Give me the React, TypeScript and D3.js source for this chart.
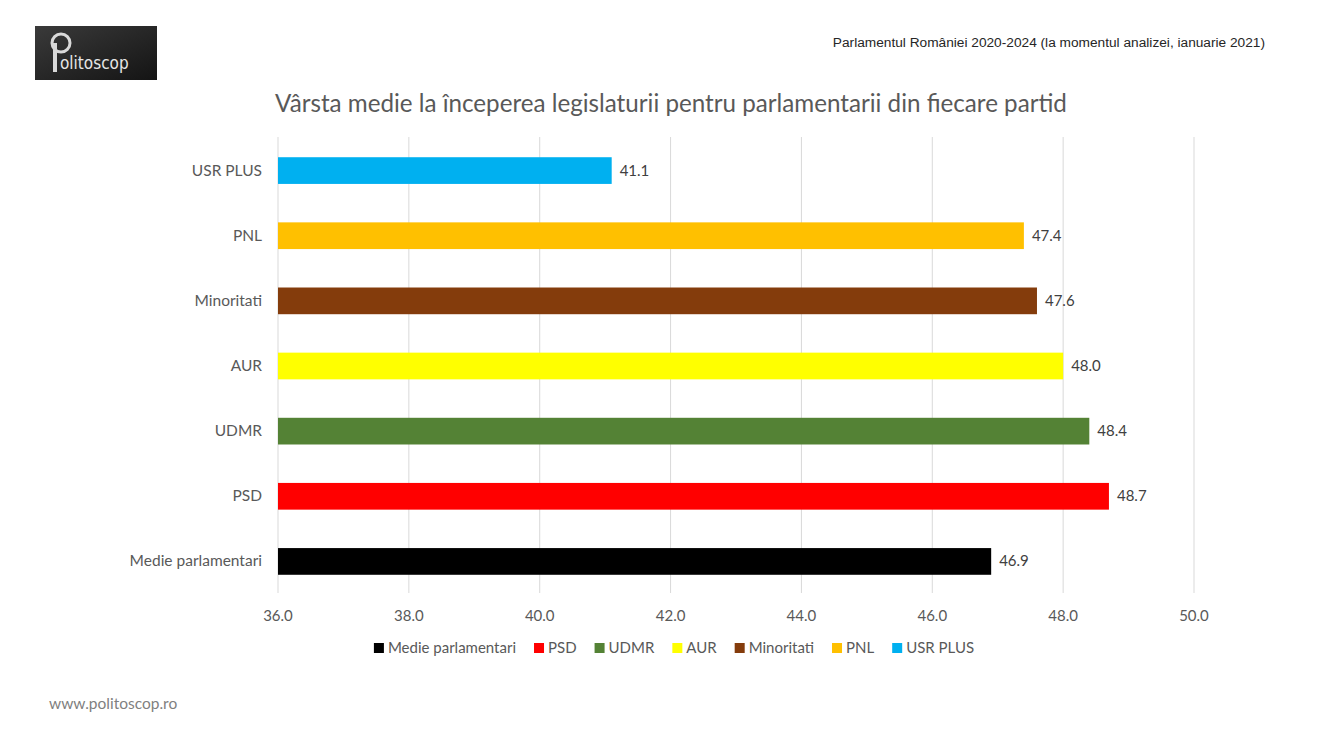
import React, { useRef, useEffect } from "react";
import * as d3 from "d3";

// parties, top to bottom as drawn
const parties = ["USR PLUS", "PNL", "Minoritati", "AUR", "UDMR", "PSD", "Medie parlamentari"];
const ages = [41.1, 47.4, 47.6, 48.0, 48.4, 48.7, 46.9];
const colors = ["#00B0F0", "#FFC000", "#843C0C", "#FFFF00", "#548235", "#FF0000", "#000000"];
const ticks = [36, 38, 40, 42, 44, 46, 48, 50];
// legend order follows the series order
const legendOrder = ["Medie parlamentari", "PSD", "UDMR", "AUR", "Minoritati", "PNL", "USR PLUS"];

const W = 1332;
const H = 750;
const FONT = "Lato, 'Open Sans', sans-serif";

const App: React.FC = () => {
  const ref = useRef<SVGSVGElement | null>(null);

  useEffect(() => {
    const svg = d3.select(ref.current);
    svg.selectAll("*").remove();
    svg.attr("viewBox", `0 0 ${W} ${H}`);

    svg.append("rect").attr("width", W).attr("height", H).attr("fill", "#ffffff");

    const x = d3.scaleLinear().domain([36, 50]).range([278, 1194]);
    const y = d3.scaleBand<string>().domain(parties).range([138, 594]).paddingInner(0.59).paddingOuter(0.295);

    // logo
    const defs = svg.append("defs");
    const grad = defs.append("linearGradient").attr("id", "logoGrad").attr("x1", "0").attr("y1", "0").attr("x2", "1").attr("y2", "1");
    grad.append("stop").attr("offset", "0%").attr("stop-color", "#3a3a3a");
    grad.append("stop").attr("offset", "100%").attr("stop-color", "#141414");
    svg.append("rect").attr("x", 35).attr("y", 26).attr("width", 122).attr("height", 54).attr("fill", "url(#logoGrad)");
    svg.append("circle").attr("cx", 61).attr("cy", 43).attr("r", 9).attr("fill", "none").attr("stroke", "#d9d9d9").attr("stroke-width", 3);
    svg.append("text").attr("x", 60).attr("y", 69).attr("font-family", "'DejaVu Sans Condensed', 'Liberation Sans Narrow', sans-serif").attr("font-size", 17).attr("fill", "#e6e6e6").text("olitoscop");
    svg.append("line").attr("x1", 55).attr("x2", 55).attr("y1", 43).attr("y2", 72).attr("stroke", "#d9d9d9").attr("stroke-width", 4);

    // header note
    svg.append("text").attr("x", 1265).attr("y", 47).attr("text-anchor", "end")
      .attr("font-family", "'Liberation Sans', Arial, sans-serif").attr("font-size", 13.7).attr("fill", "#262626")
      .text("Parlamentul României 2020-2024 (la momentul analizei, ianuarie 2021)");

    // title
    svg.append("text").attr("x", 671).attr("y", 112).attr("text-anchor", "middle")
      .attr("font-family", FONT).attr("font-size", 24.2).attr("fill", "#595959")
      .text("Vârsta medie la începerea legislaturii pentru parlamentarii din fiecare partid");

    // gridlines
    svg.append("g").selectAll("line").data(ticks).join("line")
      .attr("x1", (d) => x(d)).attr("x2", (d) => x(d))
      .attr("y1", 137).attr("y2", 593)
      .attr("stroke", "#d9d9d9").attr("stroke-width", 1);

    // x tick labels
    svg.append("g").selectAll("text").data(ticks).join("text")
      .attr("x", (d) => x(d)).attr("y", 621).attr("text-anchor", "middle")
      .attr("font-family", FONT).attr("font-size", 15).attr("fill", "#595959")
      .text((d) => d.toFixed(1));

    // category labels
    svg.append("g").selectAll("text").data(parties).join("text")
      .attr("x", 262).attr("y", (d) => (y(d) as number) + y.bandwidth() / 2 + 5).attr("text-anchor", "end")
      .attr("font-family", FONT).attr("font-size", 15.5).attr("fill", "#595959")
      .text((d) => d);

    // bars
    svg.append("g").selectAll("rect").data(parties).join("rect")
      .attr("x", x(36)).attr("y", (d) => y(d) as number)
      .attr("width", (_, i) => x(ages[i]) - x(36)).attr("height", y.bandwidth())
      .attr("fill", (_, i) => colors[i]);

    // value labels
    svg.append("g").selectAll("text").data(parties).join("text")
      .attr("x", (_, i) => x(ages[i]) + 8).attr("y", (d) => (y(d) as number) + y.bandwidth() / 2 + 5)
      .attr("font-family", FONT).attr("font-size", 15).attr("fill", "#404040")
      .text((_, i) => ages[i].toFixed(1));

    // legend
    const lg = svg.append("g");
    let cx = 0;
    legendOrder.forEach((name) => {
      const i = parties.indexOf(name);
      const item = lg.append("g").attr("transform", `translate(${cx},0)`);
      item.append("rect").attr("x", 0).attr("y", -5).attr("width", 10).attr("height", 10).attr("fill", colors[i]);
      const t = item.append("text").attr("x", 14).attr("y", 5)
        .attr("font-family", FONT).attr("font-size", 15).attr("fill", "#595959").text(name);
      const w = (t.node() as SVGTextElement).getComputedTextLength();
      cx += 14 + w + 18;
    });
    const total = cx - 18;
    lg.attr("transform", `translate(${674 - total / 2},648)`);

    // footer
    svg.append("text").attr("x", 49).attr("y", 709)
      .attr("font-family", FONT).attr("font-size", 15.5).attr("fill", "#7f7f7f")
      .text("www.politoscop.ro");
  }, []);

  return (
    <div style={{ position: "absolute", left: 0, top: 0 }}>
      <svg ref={ref} width={W} height={H} style={{ display: "block" }} />
    </div>
  );
};

export default App;
